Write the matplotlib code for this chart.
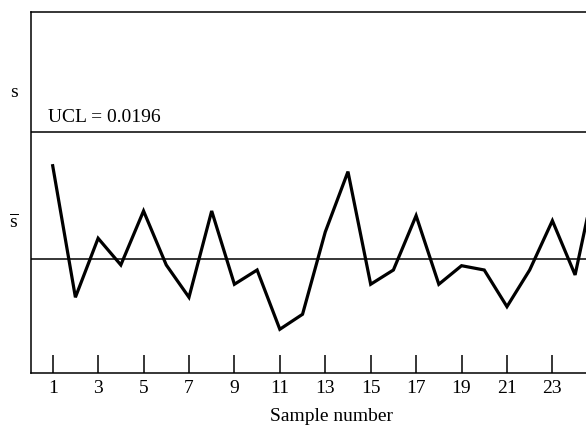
import numpy as np
import matplotlib
matplotlib.use('Agg')
import matplotlib.pyplot as plt

plt.rcParams['font.family'] = ['Liberation Serif', 'DejaVu Serif']
plt.rcParams['mathtext.fontset'] = 'custom'
plt.rcParams['mathtext.rm'] = 'Liberation Serif'
plt.rcParams['mathtext.it'] = 'Liberation Serif'

# sample standard deviations per sample
samples = np.arange(1, 26)
s_values = [0.01688, 0.00618, 0.01098, 0.00881, 0.0132, 0.00881, 0.00618,
            0.0132, 0.00724, 0.0084, 0.00358, 0.0048, 0.01149, 0.0164,
            0.00724, 0.0084, 0.01282, 0.00724, 0.00875, 0.0084, 0.00542,
            0.0084, 0.01241, 0.008, 0.01667]
s_bar = 0.0093
ucl = 0.0196
tick_labels = [1, 3, 5, 7, 9, 11, 13, 15, 17, 19, 21, 23]

fig = plt.figure(figsize=(5.86, 4.26), dpi=100)
ax = fig.add_axes([31 / 586, 52.7 / 426, 555 / 586, 361.3 / 426])

ax.plot(samples, s_values, color='black', lw=2.3, solid_joinstyle='miter')
ax.axhline(ucl, color='black', lw=1.1)
ax.axhline(s_bar, color='black', lw=1.1)

ax.set_xlim(0.045, 24.48)
ax.set_ylim(0, 0.02938)
ax.spines['right'].set_visible(False)
for sp in ['left', 'top', 'bottom']:
    ax.spines[sp].set_linewidth(1.1)

ax.set_xticks(tick_labels)
ax.set_xticklabels([str(t) for t in tick_labels], fontsize=14)
ax.tick_params(axis='x', direction='in', length=13, width=1.1, pad=5)
ax.set_yticks([])

ax.text(0.79, ucl + 0.0005, 'UCL = 0.0196', fontsize=14, va='bottom', ha='left')
fig.text(14 / 586, 1 - 93 / 426, 's', fontsize=14, ha='center', va='center')
fig.text(14 / 586, 1 - 222 / 426, r'$\overline{\mathrm{s}}$', fontsize=14,
         ha='center', va='center')

ax.set_xlabel('Sample number', fontsize=14)
ax.xaxis.set_label_coords((331 - 31) / 555, (373.3 - 408) / 361.3)

fig.savefig('out.png', dpi=100)
